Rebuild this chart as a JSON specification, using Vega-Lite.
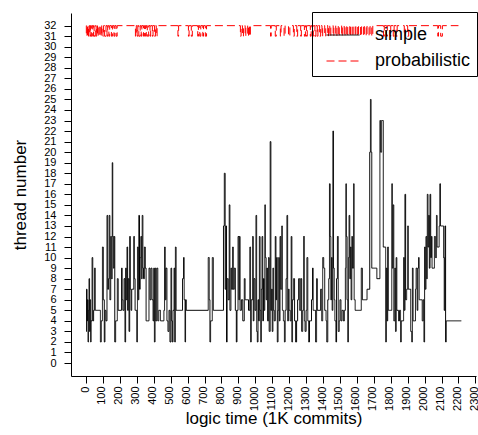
{
"$schema":"https://vega.github.io/schema/vega-lite/v6.json",
"width":405,"height":363,
"autosize":{"type":"none"},
"padding":{"left":71,"top":13,"right":2,"bottom":59},
"config":{"view":{"stroke":null},"font":"Liberation Sans"},
"datasets":{
"simple":[[0,3],[3,7],[6,4],[9,6],[12,2],[15,5],[18,8],[21,3],[24,6],[27,2],[30,4],[36,10],[40,4],[45,5],[50,9],[55,5],[85,2],[90,4],[97,11],[102,6],[108,2],[112,5],[118,4],[124,14],[128,7],[133,8],[137,14],[141,6],[146,12],[150,8],[155,19],[158,12],[162,9],[166,12],[170,2],[175,4],[185,8],[190,5],[210,9],[214,6],[218,5],[225,8],[230,2],[234,9],[238,6],[242,11],[246,5],[250,8],[254,3],[258,12],[262,7],[266,5],[270,7],[282,12],[286,8],[290,5],[300,2],[304,11],[308,6],[312,14],[316,7],[320,10],[324,12],[328,8],[332,14],[336,9],[340,8],[345,11],[350,9],[355,4],[372,9],[378,6],[384,9],[390,6],[396,4],[400,9],[404,2],[408,9],[412,4],[418,9],[424,4],[430,5],[440,4],[460,5],[464,11],[468,6],[472,9],[478,4],[484,3],[490,5],[496,2],[502,9],[506,4],[510,2],[514,5],[520,9],[524,2],[528,11],[532,5],[570,8],[576,10],[580,6],[585,2],[588,6],[592,5],[722,10],[728,6],[732,2],[736,4],[746,10],[752,5],[812,13],[817,18],[822,7],[826,13],[830,2],[834,8],[840,6],[846,15],[850,5],[856,9],[860,7],[866,11],[870,7],[876,9],[882,5],[888,2],[892,5],[898,12],[903,6],[906,12],[910,5],[918,6],[926,4],[935,8],[940,6],[960,5],[968,11],[972,2],[976,6],[984,12],[988,4],[992,8],[998,5],[1004,14],[1008,3],[1012,2],[1016,6],[1020,4],[1024,12],[1028,5],[1032,2],[1036,7],[1040,12],[1044,4],[1048,8],[1052,5],[1056,15],[1060,10],[1064,6],[1068,9],[1072,4],[1078,10],[1082,3],[1088,21],[1092,5],[1096,7],[1100,3],[1104,9],[1108,5],[1112,4],[1118,12],[1122,6],[1126,10],[1130,2],[1134,5],[1138,10],[1142,4],[1146,12],[1150,7],[1156,13],[1160,5],[1166,4],[1172,2],[1176,5],[1182,8],[1187,14],[1191,4],[1196,7],[1200,5],[1206,4],[1212,12],[1216,2],[1220,6],[1226,8],[1232,4],[1238,2],[1244,4],[1250,6],[1256,8],[1262,5],[1268,8],[1274,3],[1280,5],[1285,12],[1290,4],[1294,3],[1300,5],[1305,10],[1310,4],[1315,2],[1320,4],[1332,6],[1338,9],[1342,5],[1356,2],[1362,8],[1366,5],[1386,7],[1392,4],[1398,10],[1404,9],[1410,5],[1418,4],[1422,2],[1428,6],[1434,8],[1438,17],[1442,12],[1446,6],[1450,10],[1454,5],[1458,22],[1462,9],[1466,6],[1470,4],[1476,2],[1480,8],[1485,12],[1490,3],[1496,4],[1500,6],[1506,4],[1512,5],[1520,4],[1526,5],[1532,9],[1535,17],[1538,12],[1542,6],[1546,2],[1550,10],[1554,14],[1558,8],[1562,11],[1566,6],[1570,12],[1574,9],[1580,17],[1584,6],[1590,5],[1626,9],[1632,6],[1660,7],[1676,20],[1680,25],[1684,20],[1688,9],[1718,8],[1736,23],[1740,20],[1746,23],[1756,11],[1770,2],[1774,9],[1778,4],[1782,11],[1786,5],[1806,17],[1810,9],[1814,15],[1818,4],[1824,9],[1828,3],[1832,10],[1836,5],[1846,4],[1852,5],[1858,2],[1862,4],[1876,10],[1880,5],[1884,16],[1888,6],[1894,7],[1900,13],[1904,7],[1918,3],[1924,2],[1928,9],[1932,4],[1946,7],[1950,9],[1956,5],[1960,9],[1964,10],[1968,6],[1986,4],[1992,6],[1996,2],[2000,11],[2004,7],[2008,12],[2012,8],[2016,16],[2020,11],[2024,14],[2028,9],[2032,16],[2036,10],[2040,12],[2044,9],[2058,12],[2064,10],[2070,14],[2074,11],[2086,13],[2090,17],[2094,13],[2112,10],[2116,5],[2120,13],[2124,2],[2128,4],[2217,4]],
"prob":[[0,32],[2,31],[6,32],[9,31],[12,32],[15,31],[20,32],[24,31],[27,32],[31,31],[35,32],[40,31],[44,32],[48,31],[55,32],[60,31],[63,32],[68,31],[72,32],[78,31],[84,32],[90,31],[93,32],[100,31],[104,32],[110,31],[118,32],[124,31],[128,32],[135,31],[140,32],[150,31],[156,32],[165,31],[170,32],[178,31],[184,32],[292,31],[297,32],[302,31],[306,32],[312,31],[320,32],[326,31],[330,32],[340,31],[345,32],[352,31],[356,32],[362,31],[370,32],[378,31],[382,32],[392,31],[396,32],[405,31],[410,32],[415,31],[420,32],[543,31],[547,32],[605,31],[609,32],[622,31],[628,32],[660,31],[664,32],[672,31],[678,32],[690,31],[694,32],[705,31],[712,32],[912,31],[916,32],[924,31],[930,32],[940,31],[944,32],[955,31],[960,32],[966,31],[971,32],[1090,31],[1094,32],[1118,31],[1124,32],[1148,31],[1152,32],[1170,31],[1176,32],[1196,31],[1204,32],[1225,31],[1230,32],[1245,31],[1250,32],[1268,31],[1272,32],[1290,31],[1296,32],[1302,31],[1307,32],[1325,31],[1330,32],[1338,31],[1343,32],[1352,31],[1358,32],[1366,31],[1370,32],[1380,31],[1386,32],[1394,31],[1398,32],[1410,31],[1416,32],[1428,31],[1432,32],[1440,31],[1446,32],[1460,31],[1464,32],[1475,31],[1482,32],[1490,31],[1496,32],[1510,31],[1514,32],[1525,31],[1530,32],[1540,31],[1546,32],[1558,31],[1562,32],[1572,31],[1578,32],[1590,31],[1594,32],[1605,31],[1610,32],[1622,31],[1628,32],[1640,31],[1644,32],[1655,31],[1660,32],[1672,31],[1678,32],[1688,31],[1694,32],[1757,31],[1762,32],[1775,31],[1780,32],[1795,31],[1800,32],[1815,31],[1820,32],[1832,31],[1838,32],[1880,31],[1885,32],[1900,31],[1906,32],[2078,31],[2082,32],[2095,31],[2105,32],[2200,32]]
},
"layer":[
{"data":{"name":"simple"},
 "transform":[{"calculate":"datum[0]","as":"t"},{"calculate":"datum[1]","as":"n"},{"calculate":"'simple'","as":"s"}],
 "mark":{"type":"line","interpolate":"step-after","strokeWidth":1},
 "encoding":{}
},
{"data":{"name":"prob"},
 "transform":[{"calculate":"datum[0]","as":"t"},{"calculate":"datum[1]","as":"n"},{"calculate":"'probabilistic'","as":"s"}],
 "mark":{"type":"line","interpolate":"step-after","strokeWidth":1},
 "encoding":{}
}
],
"encoding":{
 "x":{"field":"t","type":"quantitative","scale":{"domain":[-88.6,2303.6],"nice":false,"zero":false},
   "axis":{"title":"logic time (1K commits)","format":"d","values":[0,100,200,300,400,500,600,700,800,900,1000,1100,1200,1300,1400,1500,1600,1700,1800,1900,2000,2100,2200,2300],
   "labelAngle":270,"labelFontSize":11,"labelPadding":3,"labelOffset":-1,"tickSize":7,"grid":false,"domainColor":"black","tickColor":"black","labelColor":"black","titleColor":"black","titleFontSize":17,"titleFontWeight":"normal","labelOverlap":false,"labelFlush":false,"labelBound":false,"titlePadding":0}},
 "y":{"field":"n","type":"quantitative","scale":{"domain":[-1.23,33.2],"nice":false,"zero":false},
   "axis":{"title":"thread number","values":[0,1,2,3,4,5,6,7,8,9,10,11,12,13,14,15,16,17,18,19,20,21,22,23,24,25,26,27,28,29,30,31,32],
   "labelFontSize":11,"labelPadding":8,"tickSize":7,"grid":false,"domainColor":"black","tickColor":"black","labelColor":"black","titleColor":"black","titleFontSize":17,"titleFontWeight":"normal","labelOverlap":false,"labelFlush":false,"labelBound":false,"titlePadding":14}},
 "color":{"field":"s","type":"nominal","scale":{"domain":["simple","probabilistic"],"range":["black","#ff0000"]},
   "legend":{"orient":"none","legendX":241,"legendY":-1,"title":null,"strokeColor":"black","padding":6,"symbolOffset":8,"labelFontSize":18,"labelColor":"black","symbolType":"stroke","symbolSize":1089,"symbolStrokeWidth":1,"labelOffset":15,"rowPadding":-12,
   "symbolDash":{"expr":"datum.value == 'probabilistic' ? [8,5] : [1,0]"}}},
 "strokeDash":{"field":"s","type":"nominal","scale":{"domain":["simple","probabilistic"],"range":[[1,0],[8,4]]},"legend":null}
}
}
